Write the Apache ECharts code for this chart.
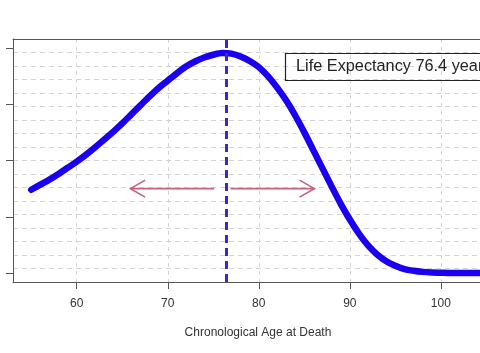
<!DOCTYPE html>
<html>
<head>
<meta charset="utf-8">
<script src="https://cdn.jsdelivr.net/npm/echarts@6/dist/echarts.min.js"></script>
<style>
  body { margin: 0; background: #fff; }
  #chart { width: 480px; height: 353px; }
</style>
</head>
<body>
<div id="chart"></div>
<script>
// age at death (years)
var ages = [55, 56, 57, 58, 59, 60, 61, 62, 63, 64, 65, 66, 67, 68, 69, 70, 71, 72, 73, 74,
            75, 76, 77, 78, 79, 80, 81, 82, 83, 84, 85, 86, 87, 88, 89, 90, 91, 92, 93, 94,
            95, 96, 97, 98, 99, 100, 101, 102, 103, 104, 105];
// density of deaths (unlabeled axis)
var density = [1.48, 1.57, 1.66, 1.76, 1.87, 1.98, 2.10, 2.23, 2.37, 2.51, 2.66, 2.82, 2.98, 3.14, 3.29, 3.42, 3.55, 3.67, 3.76, 3.83,
               3.88, 3.91, 3.90, 3.85, 3.77, 3.66, 3.50, 3.30, 3.07, 2.80, 2.50, 2.18, 1.86, 1.54, 1.23, 0.95, 0.70, 0.49, 0.33, 0.21,
               0.13, 0.07, 0.04, 0.02, 0.01, 0.005, 0, 0, 0, 0, 0];
var lifeExpectancy = 76.4;
var xTicks = [60, 70, 80, 90, 100];
var yTicks = [0, 1, 2, 3, 4];
// spread arrows: start, end (age), height
var arrowStart = [75.1, 76.9];
var arrowEnd = [65.9, 86.1];
var arrowY = 1.5;

var curve = ages.map(function(a, i) { return [a, density[i]]; });
var arrows = arrowStart.map(function(s, i) { return [s, arrowEnd[i], arrowY]; });

var chart = echarts.init(document.getElementById('chart'));

// open arrow head like R's arrows()
function renderArrow(params, api) {
    var p0 = api.coord([api.value(0), api.value(2)]);
    var p1 = api.coord([api.value(1), api.value(2)]);
    var dx = p1[0] - p0[0], dy = p1[1] - p0[1];
    var len = Math.sqrt(dx * dx + dy * dy);
    var ux = dx / len, uy = dy / len;
    var hl = 17, ang = Math.PI / 6;
    var c = Math.cos(ang), s = Math.sin(ang);
    var h1 = [p1[0] - hl * (ux * c - uy * s), p1[1] - hl * (uy * c + ux * s)];
    var h2 = [p1[0] - hl * (ux * c + uy * s), p1[1] - hl * (uy * c - ux * s)];
    var style = { stroke: '#c9607c', lineWidth: 1.6, fill: null };
    return {
        type: 'group',
        children: [
            { type: 'line', shape: { x1: p0[0], y1: p0[1], x2: p1[0], y2: p1[1] }, style: style },
            { type: 'polyline', shape: { points: [h1, p1, h2] }, style: style }
        ]
    };
}

// x range is cut at the right edge like the picture
var xMin = 53, xMax = 104.3;

var option = {
    animation: false,
    title: {
        text: 'Life Expectancy ' + lifeExpectancy + ' years',
        left: 285,
        top: 53,
        padding: [6, 11, 6, 11],
        borderColor: '#222',
        borderWidth: 1.2,
        textStyle: {
            fontFamily: 'Liberation Sans',
            fontSize: 16.3,
            fontWeight: 'normal',
            color: '#222'
        }
    },
    grid: {
        left: 13,
        top: 39,
        right: 0,
        height: 243
    },
    xAxis: [{
        type: 'value',
        min: xMin,
        max: xMax,
        name: 'Chronological Age at Death',
        nameLocation: 'middle',
        nameGap: 45,
        nameTextStyle: { fontFamily: 'Liberation Sans', fontSize: 12, color: '#333', padding: [0, 0, 0, 23] },
        axisLine: { show: true, onZero: false, lineStyle: { color: '#555' } },
        axisTick: { show: true, length: 7, customValues: xTicks, lineStyle: { color: '#555' } },
        axisLabel: { customValues: xTicks, margin: 16, fontFamily: 'Liberation Sans', fontSize: 12, color: '#333' },
        splitLine: { show: true, lineStyle: { color: '#d4d4d4', type: [4, 4], width: 1 } }
    }, {
        // top side of the box
        type: 'value',
        position: 'top',
        min: xMin,
        max: xMax,
        axisLine: { show: true, onZero: false, lineStyle: { color: '#555' } },
        axisTick: { show: false },
        axisLabel: { show: false },
        splitLine: { show: false }
    }],
    yAxis: [{
        type: 'value',
        min: -0.16,
        max: 4.16,
        axisLine: { show: true, onZero: false, lineStyle: { color: '#555' } },
        axisTick: { show: true, length: 7, customValues: yTicks, lineStyle: { color: '#555' } },
        axisLabel: { show: false },
        splitLine: { show: false }
    }, {
        // background grid, 18 equal parts like R grid(ny = 18)
        type: 'value',
        min: 0,
        max: 18,
        interval: 1,
        axisLine: { show: false },
        axisTick: { show: false },
        axisLabel: { show: false },
        splitLine: {
            show: true,
            showMinLine: false,
            showMaxLine: false,
            lineStyle: { color: '#d4d4d4', type: [5, 4], width: 1 }
        }
    }],
    series: [{
        type: 'line',
        data: curve,
        showSymbol: false,
        smooth: 0.3,
        z: 3,
        lineStyle: { color: '#1a00ee', width: 6.5, cap: 'round', join: 'round' },
        markLine: {
            silent: true,
            symbol: ['none', 'none'],
            label: { show: false },
            lineStyle: { color: '#3a28cc', width: 3, type: [8, 5] },
            data: [{ xAxis: lifeExpectancy }]
        }
    }, {
        type: 'custom',
        renderItem: renderArrow,
        data: arrows,
        encode: { x: [0, 1], y: 2 },
        z: 2
    }]
};
chart.setOption(option);
</script>
</body>
</html>
